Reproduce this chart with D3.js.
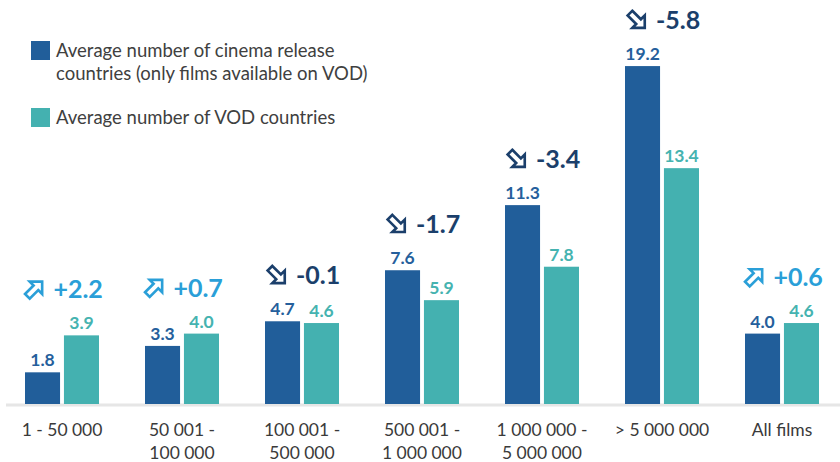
<!DOCTYPE html>
<html>
<head>
<meta charset="utf-8">
<script src="https://cdn.jsdelivr.net/npm/d3@7"></script>
<style>
  body { margin: 0; background: #fff; }
  svg { font-family: Lato, "Noto Sans", sans-serif; }
</style>
</head>
<body>
<script>
// data
var categories = [
  ["1 - 50\u202F000"],
  ["50\u202F001 -", "100\u202F000"],
  ["100\u202F001 -", "500\u202F000"],
  ["500\u202F001 -", "1\u202F000\u202F000"],
  ["1\u202F000\u202F000 -", "5\u202F000\u202F000"],
  ["> 5\u202F000\u202F000"],
  ["All films"]
];
var cinema = [1.8, 3.3, 4.7, 7.6, 11.3, 19.2, 4.0];
var vod = [3.9, 4.0, 4.6, 5.9, 7.8, 13.4, 4.6];
var change = [2.2, 0.7, -0.1, -1.7, -3.4, -5.8, 0.6];
var seriesNames = ["Average number of cinema release|countries (only films available on VOD)", "Average number of VOD countries"];

var colors = ["#215e9a", "#44b1b0"];
var upColor = "#2a9fd8", downColor = "#1b3f6b";

var width = 840, height = 462;
var baseY = 404;

var svg = d3.select("body").append("svg").attr("width", width).attr("height", height);

var x = d3.scaleBand().domain(d3.range(categories.length)).range([2, 842]);
var x1 = d3.scaleBand().domain([0, 1]).range([-37, 37]).paddingInner(0.1);
var y = d3.scaleLinear().domain([0, 20]).range([baseY, 52]);

// axis line
svg.append("line")
  .attr("x1", 6).attr("x2", 840).attr("y1", baseY + 1).attr("y2", baseY + 1)
  .attr("stroke", "#e6e6e6").attr("stroke-width", 3);

var groups = svg.selectAll("g.grp").data(categories).enter().append("g")
  .attr("class", "grp")
  .attr("transform", function(d, i) { return "translate(" + (x(i) + x.bandwidth() / 2) + ",0)"; });

[cinema, vod].forEach(function(vals, s) {
  groups.append("rect")
    .attr("x", x1(s))
    .attr("width", x1.bandwidth())
    .attr("y", function(d, i) { return y(vals[i]); })
    .attr("height", function(d, i) { return baseY - y(vals[i]); })
    .attr("fill", colors[s]);
  groups.append("text")
    .attr("x", x1(s) + x1.bandwidth() / 2)
    .attr("y", function(d, i) { return y(vals[i]) - 6; })
    .attr("text-anchor", "middle")
    .attr("font-size", 17.5).attr("font-weight", "bold")
    .attr("fill", s == 0 ? "#255f9c" : "#45b3b0")
    .text(function(d, i) { return vals[i].toFixed(1); });
});

// category labels
groups.each(function(d) {
  var t = d3.select(this).append("text")
    .attr("text-anchor", "middle").attr("font-size", 17.5).attr("fill", "#3a3a3a");
  d.forEach(function(line, k) {
    t.append("tspan").attr("x", 0).attr("y", 436 + k * 23).text(line);
  });
});

// change annotations
var arrowPath = "M-9,-3L2,-3L2,-8L10,0L2,8L2,3L-9,3Z";
groups.each(function(d, i) {
  var top = y(Math.max(cinema[i], vod[i])) - 37;
  var c = change[i] >= 0 ? upColor : downColor;
  var a = d3.select(this).append("g");
  a.append("path").attr("d", arrowPath)
    .attr("transform", "translate(0," + (top - 9) + ") rotate(" + (change[i] >= 0 ? -45 : 45) + ") scale(1.1)")
    .attr("fill", "none").attr("stroke", c).attr("stroke-width", 2.4).attr("stroke-linejoin", "miter");
  a.append("text").attr("x", 19).attr("y", top)
    .attr("font-size", 25).attr("font-weight", "bold").attr("fill", c)
    .text((change[i] >= 0 ? "+" : "-") + Math.abs(change[i]).toFixed(1));
  var bb = a.node().getBBox();
  a.attr("transform", "translate(" + (-(bb.x + bb.width / 2)) + ",0)");
});

// legend
var legY = [41, 108];
seriesNames.forEach(function(name, s) {
  svg.append("rect").attr("x", 31).attr("y", legY[s]).attr("width", 19).attr("height", 19).attr("fill", colors[s]);
  var t = svg.append("text").attr("font-size", 18.5).attr("fill", "#404040");
  name.split("|").forEach(function(line, k) {
    t.append("tspan").attr("x", 56).attr("y", legY[s] + 16 + k * 23).text(line);
  });
});
</script>
</body>
</html>
